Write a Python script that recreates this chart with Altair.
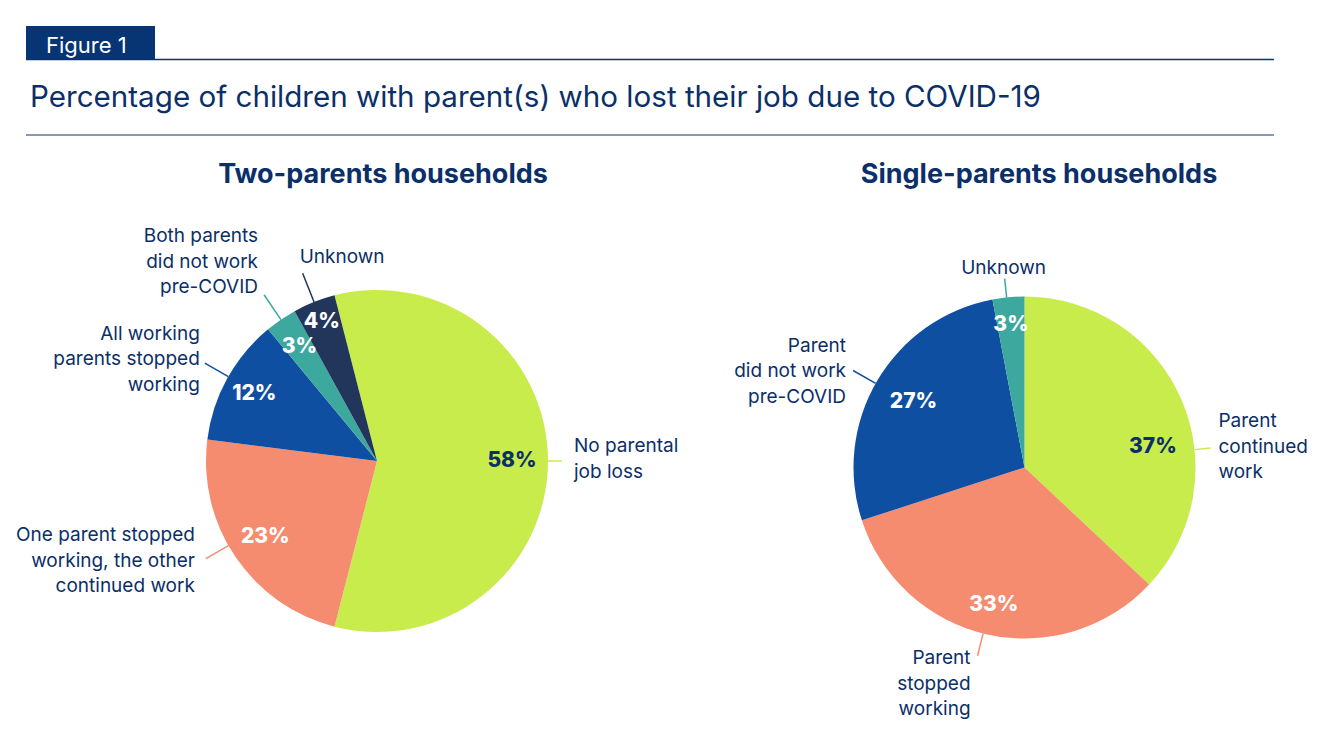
import math
import altair as alt
import pandas as pd

# ---------------- data ----------------
two_cats = ["No parental job loss",
            "One parent stopped working, the other continued work",
            "All working parents stopped working",
            "Both parents did not work pre-COVID",
            "Unknown"]
two_vals = [58, 23, 12, 3, 4]
two_label_text = ["No parental\njob loss",
                  "One parent stopped\nworking, the other\ncontinued work",
                  "All working\nparents stopped\nworking",
                  "Both parents\ndid not work\npre-COVID",
                  "Unknown"]

single_cats = ["Parent continued work", "Parent stopped working",
               "Parent did not work pre-COVID", "Unknown"]
single_vals = [37, 33, 27, 3]
single_label_text = ["Parent\ncontinued\nwork", "Parent\nstopped\nworking",
                     "Parent\ndid not work\npre-COVID", "Unknown"]

figure_tag = ["Figure 1"]
main_title = ["Percentage of children with parent(s) who lost their job due to COVID-19"]
panel_titles = ["Two-parents households", "Single-parents households"]

# ---------------- style / layout ----------------
NAVY_TEXT = "#0B2F68"
HEADER_BG = "#073472"
two_colors = ["#C8EC4B", "#F58B6F", "#0F4FA1", "#3DA89E", "#21365A"]
single_colors = ["#C8EC4B", "#F58B6F", "#0F4FA1", "#3DA89E"]
two_pct_colors = [NAVY_TEXT, "white", "white", "white", "white"]
single_pct_colors = [NAVY_TEXT, "white", "white", "white"]

FONT = "Inter"
LABEL_SIZE = 19
LINE_H = 25.5
W, H = 1320, 726
R = 171

two_layout = dict(cx=369, cy=453, start=-14.4,
                  lead=[14, 26, 27, 30, 31],
                  text=[("left", 12, -2), ("right", -11, 2), ("right", -5, -4),
                        ("right", -6, -33), ("left", -3, -16)],
                  pct_r=[135, 135, 140, 138, 150],
                  lead_shift=[0, 4.5, 0.8, 0, 0],
                  pct_shift=[0, 0, 0, 0, 0])
single_layout = dict(cx=1016.5, cy=459.5, start=0.0,
                     lead=[16, 23, 26, 19],
                     text=[("left", 8, -1), ("right", -7, 28), ("right", -7, 1),
                           ("center", -1, -11)],
                     pct_r=[130, 141, 129, 143],
                     lead_shift=[17.4, 1.4, -1.1, -0.6],
                     pct_shift=[14.4, 0, 0, 0])


def build_pie(cats, vals, labels, colors, pct_colors, lay):
    total = float(sum(vals))
    slices = pd.DataFrame({"cat": cats, "val": vals,
                           "order": list(range(len(cats))), "color": colors})
    start = math.radians(lay["start"])
    arc = alt.Chart(slices).mark_arc(outerRadius=R).encode(
        theta=alt.Theta("val:Q", stack=True,
                        scale=alt.Scale(range=[start, start + 2 * math.pi])),
        order=alt.Order("order:Q"),
        color=alt.Color("color:N", scale=None),
        x=alt.value(lay["cx"]), y=alt.value(lay["cy"]),
    )

    rows = []
    cum = 0.0
    for i, (c, v) in enumerate(zip(cats, vals)):
        mid = lay["start"] + (cum + v / 2.0) / total * 360.0
        cum += v
        a = math.radians(mid + lay["lead_shift"][i])
        s, co = math.sin(a), -math.cos(a)
        x1, y1 = lay["cx"] + R * s, lay["cy"] + R * co
        r2 = R + lay["lead"][i]
        x2, y2 = lay["cx"] + r2 * s, lay["cy"] + r2 * co
        al, dx, dy = lay["text"][i]
        nlines = labels[i].count("\n") + 1
        b = math.radians(mid + lay["pct_shift"][i])
        pr = lay["pct_r"][i]
        rows.append(dict(cat=c, label=labels[i], pct=f"{v}%",
                         x1=x1, y1=y1, x2=x2, y2=y2,
                         tx=x2 + dx, ty=y2 + dy - (nlines - 1) * LINE_H / 2.0,
                         align=al,
                         px=lay["cx"] + pr * math.sin(b),
                         py=lay["cy"] - pr * math.cos(b),
                         pcolor=pct_colors[i], lcolor=colors[i]))
    ann = pd.DataFrame(rows)

    leaders = alt.Chart(ann).mark_rule(strokeWidth=1.5).encode(
        x=alt.X("x1:Q", scale=None), y=alt.Y("y1:Q", scale=None),
        x2="x2:Q", y2="y2:Q",
        color=alt.Color("lcolor:N", scale=None),
    )
    layers = [arc, leaders]
    for al in ["left", "right", "center"]:
        sub = ann[ann["align"] == al]
        if len(sub) == 0:
            continue
        layers.append(
            alt.Chart(sub).mark_text(align=al, baseline="middle", lineBreak="\n",
                                     fontSize=LABEL_SIZE, lineHeight=LINE_H, font=FONT,
                                     color=NAVY_TEXT).encode(
                x=alt.X("tx:Q", scale=None), y=alt.Y("ty:Q", scale=None),
                text="label:N")
        )
    layers.append(
        alt.Chart(ann).mark_text(align="center", baseline="middle", fontSize=21,
                                 fontWeight=800, font=FONT).encode(
            x=alt.X("px:Q", scale=None), y=alt.Y("py:Q", scale=None),
            text="pct:N", color=alt.Color("pcolor:N", scale=None))
    )
    return alt.layer(*layers)


left_pie = build_pie(two_cats, two_vals, two_label_text, two_colors, two_pct_colors, two_layout)
right_pie = build_pie(single_cats, single_vals, single_label_text, single_colors,
                      single_pct_colors, single_layout)

hdr = pd.DataFrame({"t": figure_tag})
ttl = pd.DataFrame({"t": main_title})
ptl = pd.DataFrame({"t": panel_titles, "cx": [375, 1031]})

header_box = alt.Chart(hdr).mark_rect(color=HEADER_BG).encode(
    x=alt.value(18), x2=alt.value(147), y=alt.value(18), y2=alt.value(52))
header_text = alt.Chart(hdr).mark_text(align="left", baseline="alphabetic", color="white",
                                       fontSize=22, font=FONT).encode(
    x=alt.value(38), y=alt.value(45), text="t:N")
rule1 = alt.Chart(hdr).mark_rule(color=HEADER_BG, strokeWidth=1.5).encode(
    x=alt.value(18), x2=alt.value(1266), y=alt.value(51.5))
rule2 = alt.Chart(hdr).mark_rule(color=HEADER_BG, strokeWidth=1.2).encode(
    x=alt.value(18), x2=alt.value(1266), y=alt.value(127))
title_text = alt.Chart(ttl).mark_text(align="left", baseline="alphabetic", color=NAVY_TEXT,
                                      fontSize=29.6, font=FONT).encode(
    x=alt.value(22), y=alt.value(99), text="t:N")
panel_text = alt.Chart(ptl).mark_text(align="center", baseline="alphabetic", color=NAVY_TEXT,
                                      fontSize=27, fontWeight="bold", font=FONT).encode(
    x=alt.X("cx:Q", scale=None), y=alt.value(175), text="t:N")

chart = alt.layer(
    header_box, rule1, header_text, title_text, rule2, panel_text, left_pie, right_pie
).resolve_scale(theta="independent").properties(
    width=W, height=H, padding=0, autosize=alt.AutoSizeParams(type="none")
).configure_view(stroke=None)

chart.save("out.html", embed_options={"renderer": "svg", "actions": False})
